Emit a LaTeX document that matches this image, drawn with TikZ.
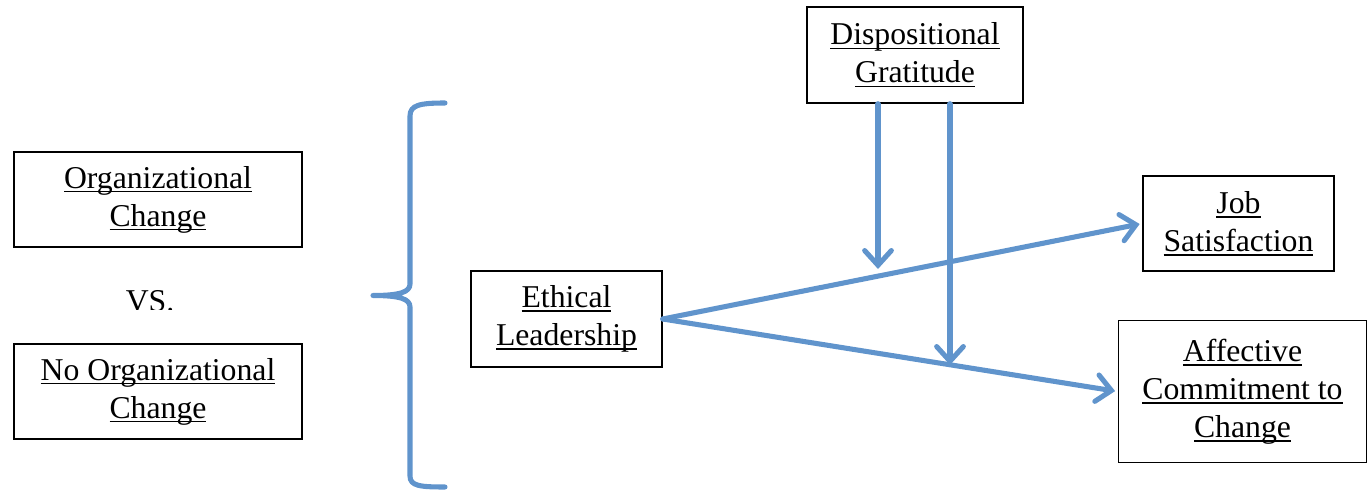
\documentclass[tikz,border=0pt]{standalone}
\usepackage{fontspec}
\setmainfont{Liberation Serif}
\usetikzlibrary{arrows.meta}
\definecolor{lineblue}{RGB}{96,148,204}
\newsavebox{\ulbox}
\newcommand{\ulx}[1]{\sbox{\ulbox}{#1}\rlap{\rule[-3.2pt]{\wd\ulbox}{1.1pt}}\usebox{\ulbox}}
\tikzset{
  box/.style={draw=black, line width=1.1pt, align=center, inner sep=0pt,
    font=\fontsize{23.8}{28.5}\selectfont},
  bl/.style={draw=lineblue, line width=3.8pt},
  arr/.style={bl, line cap=round, -{Straight Barb[length=11pt,width=20pt,line cap=round]}},
}
\begin{document}
\begin{tikzpicture}[x=0.75pt,y=-0.75pt]
\useasboundingbox (0,0) rectangle (1368,492);
\node[box, minimum width=162pt, minimum height=72pt] (grat) at (915,55) {\ulx{Dispositional}\\\ulx{Gratitude}};
\node[box, minimum width=216pt, minimum height=71.25pt] (org) at (158,199.5) {\ulx{Organizational}\\\ulx{Change}};
\node[box, minimum width=216pt, minimum height=71.25pt] (noorg) at (158,391.5) {\ulx{No Organizational}\\\ulx{Change}};
\node[box, minimum width=143.25pt, minimum height=72pt] (eth) at (566.5,319) {\ulx{Ethical}\\\ulx{Leadership}};
\node[box, minimum width=143.25pt, minimum height=71.25pt] (job) at (1238.5,223.5) {\ulx{Job}\\\ulx{Satisfaction}};
\node[box, minimum width=186pt, minimum height=106.5pt] (aff) at (1242.5,391.5) {\ulx{Affective}\\\ulx{Commitment to}\\\ulx{Change}};
\begin{scope}
\clip (0,270) rectangle (320,309);
\node[font=\fontsize{23.8}{28.5}\selectfont, anchor=base, inner sep=0pt] (vs) at (150,311) {VS.};
\end{scope}
% brace
\draw[bl, line cap=round, line join=round] (445,103) .. controls (420,103) and (410,105) .. (410,116) -- (410,284)
  .. controls (410,292) and (400,295.5) .. (373,295.5)
  .. controls (400,295.5) and (410,299) .. (410,307) -- (410,476)
  .. controls (410,486) and (420,487) .. (445,487);
% arrows
\draw[arr, shorten >=2pt] (eth.east) -- (job.west);
\draw[arr, shorten >=2pt] (eth.east) -- (aff.west);
\coordinate (m1) at (878,269);
\coordinate (m2) at (950,365);
\draw[arr] (grat.south -| m1) -- (m1);
\draw[arr] (grat.south -| m2) -- (m2);
\end{tikzpicture}
\end{document}
